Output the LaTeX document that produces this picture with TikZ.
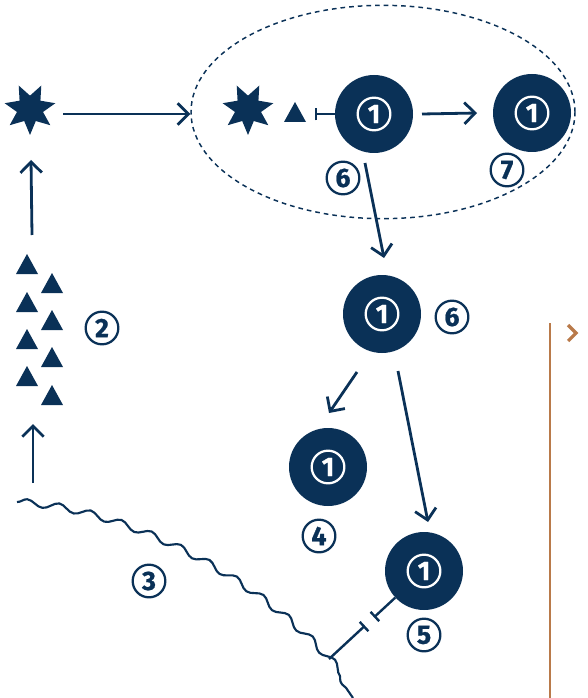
\documentclass[tikz,border=0pt]{standalone}
\usepackage{fontspec}
\setmainfont{Fira Sans}
\newfontfamily\numfont{Fira Sans}[BoldFeatures={FakeBold=0.8}]
\usetikzlibrary{arrows.meta,shapes.geometric,decorations.pathmorphing,calc}
\definecolor{navy}{HTML}{0A3157}
\definecolor{rust}{HTML}{B97A4A}
\begin{document}
\begin{tikzpicture}[x=0.75pt,y=-0.75pt,
  cell/.style={circle, fill=navy, minimum size=58.5pt, inner sep=0pt},
  inum/.style={circle, draw=white, line width=1.7pt, minimum size=24.5pt, inner sep=0pt, text=white, font=\numfont\bfseries\fontsize{20}{20}\selectfont},
  lab/.style={inum, draw=navy, text=navy},
  arr/.style={draw=navy, line width=2.1pt, -{Straight Barb[length=8pt,width=16pt]}},
  inh/.style={draw=navy, line width=1.8pt, -{Bar[width=9.5pt]}},
  starn/.style={star, star points=7, star point ratio=1.95, minimum size=39pt, inner sep=0pt, fill=navy, shape border rotate=180},
  trif/.style={fill=navy},
  wave/.style={draw=navy, line width=1.6pt, decorate, decoration={snake, segment length=24pt, amplitude=2.6pt}}
]
\useasboundingbox (0,0) rectangle (587,698);

% group ellipse
\node[ellipse, draw=navy, dashed, dash pattern=on 3.5pt off 3pt, line width=1.1pt, minimum width=288pt, minimum height=160pt, inner sep=0pt] (grp) at (383,112) {};

% stars
\node[starn] (s1) at (30,109) {};
\node[starn] (s2) at (248,109) {};

% cells
\node[cell] (A) at (374,114) {};
\node[inum] (Ai) at (A) {1};
\node[cell] (B) at (532,113) {};
\node[inum] (Bi) at (B) {1};
\node[cell] (C) at (382,314) {};
\node[inum] (Ci) at (C) {1};
\node[cell] (D) at (328,467) {};
\node[inum] (Di) at (D) {1};
\node[cell] (E) at (424,571) {};
\node[inum] (Ei) at (E) {1};

% labels
\node[lab] (l2) at (102,328) {2};
\node[lab] (l3) at (149,581) {3};
\node[lab] (l4) at (319,536) {4};
\node[lab] (l5) at (424,635) {5};
\node[lab] (l6a) at (343,178) {6};
\node[lab] (l6b) at (452,317) {6};
\node[lab] (l7) at (507,170) {7};

% triangles
\foreach \x/\y in {27/264,27/302,27/339,27/376,52/283,52/320,52/357,52/395,295/112}{
  \path[trif] (\x-11,\y+10) -- (\x,\y-10) -- (\x+11,\y+10) -- cycle;
}

% arrows
\coordinate (tritop) at (32,235);
\coordinate (tribot) at (33,424);
\coordinate (wtop) at (33,483);
\draw[arr] (wtop) -- (tribot);
\draw[arr] (tritop) -- ($(s1)+(1,51)$);
\draw[arr] ($(s1)+(33,5)$) -- ($(grp.west)+(0,2)$);

\coordinate (barA) at (315,114);
\draw[inh] (A) -- (barA);
\draw[arr] ($(A)+(48,0)$) -- ($(B)+(-55,0)$);
\draw[arr] ($(A)+(-9,49)$) -- ($(C)+(2,-56)$);
\draw[arr] ($(C)+(-25,58)$) -- ($(D)+(1,-54)$);
\draw[arr] ($(C)+(16,57)$) -- ($(E)+(4,-49)$);

% wavy membrane
\draw[wave] (17,502) .. controls (130,510) and (280,590) .. (353,698);
\coordinate (w) at (329,659);
\coordinate (b1) at ($(w)!36.75pt!(E)$);
\coordinate (b2) at ($(w)!46pt!(E)$);
\draw[inh] (w) -- (b1);
\draw[inh] (E) -- (b2);

% right side
\draw[rust, line width=1pt] (550,323) -- (550,698);
\draw[rust, line width=2.4pt] (568,325) -- (576,333) -- (568,341);
\end{tikzpicture}
\end{document}
